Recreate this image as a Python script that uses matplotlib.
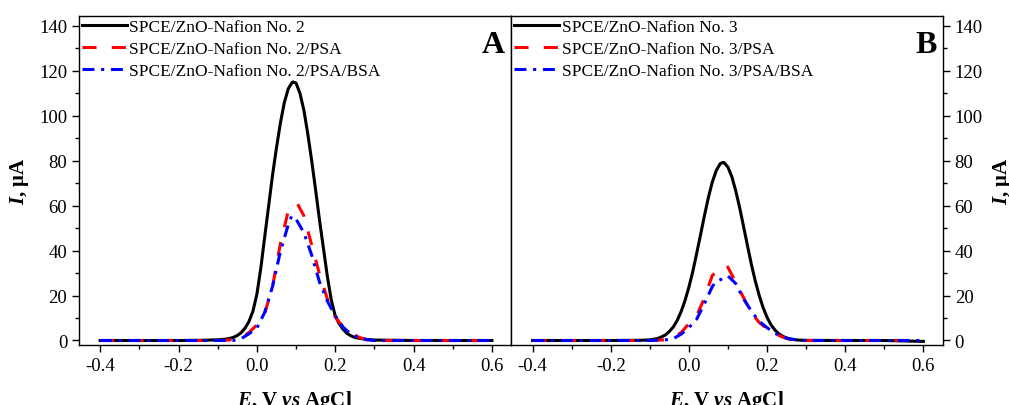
import matplotlib
matplotlib.use("Agg")
import matplotlib.pyplot as plt
from matplotlib.ticker import MultipleLocator

plt.rcParams['font.family'] = ['Liberation Serif', 'DejaVu Serif']
plt.rcParams['mathtext.fontset'] = 'custom'
plt.rcParams['mathtext.rm'] = 'Liberation Serif'
plt.rcParams['mathtext.it'] = 'Liberation Serif:italic'
plt.rcParams['mathtext.bf'] = 'Liberation Serif:bold'
plt.rcParams['mathtext.bfit'] = 'Liberation Serif:italic:bold'

# ---------------- data ----------------
# Panel A
E_A_black = [-0.40, -0.30, -0.20, -0.14, -0.10, -0.08, -0.07, -0.06, -0.05, -0.04, -0.03, -0.02, -0.01,
             0.00, 0.01, 0.02, 0.03, 0.04, 0.05, 0.06, 0.07, 0.08, 0.09, 0.093, 0.10, 0.11, 0.12, 0.13,
             0.14, 0.15, 0.16, 0.17, 0.18, 0.19, 0.20, 0.21, 0.22, 0.23, 0.24, 0.25, 0.26, 0.28, 0.30,
             0.40, 0.50, 0.60]
I_A_black = [0.0, 0.0, 0.0, 0.1, 0.3, 0.6, 0.9, 1.4, 2.2, 3.5, 5.5, 8.5, 13.0,
             20.5, 32.0, 46.0, 59.7, 73.5, 85.6, 96.6, 105.7, 111.9, 114.8, 115.0, 114.5, 110.0, 102.5, 92.0,
             80.0, 67.0, 53.5, 41.0, 28.5, 18.0, 11.0, 7.5, 5.0, 3.2, 2.1, 1.4, 1.0, 0.5, 0.2,
             0.0, 0.0, 0.0]

E_A_red = [-0.40, -0.30, -0.20, -0.10, -0.06, -0.04, -0.02, 0.00, 0.02, 0.04, 0.06, 0.08, 0.10, 0.103,
           0.12, 0.14, 0.16, 0.18, 0.20, 0.22, 0.24, 0.26, 0.28, 0.30, 0.40, 0.50, 0.60]
I_A_red = [0.0, 0.0, 0.0, 0.0, 0.3, 1.5, 3.5, 7.0, 12.0, 24.0, 43.0, 57.5, 60.5, 61.0,
           55.5, 42.5, 29.5, 18.5, 10.5, 6.0, 3.5, 1.5, 0.3, 0.0, 0.0, 0.0, 0.0]

E_A_blue = [-0.40, -0.30, -0.20, -0.10, -0.06, -0.04, -0.02, 0.00, 0.02, 0.04, 0.06, 0.08, 0.089, 0.10,
            0.12, 0.14, 0.16, 0.18, 0.20, 0.22, 0.24, 0.26, 0.28, 0.30, 0.40, 0.50, 0.60]
I_A_blue = [0.0, 0.0, 0.0, 0.0, 0.0, 0.8, 3.0, 5.5, 12.5, 24.0, 39.5, 51.4, 55.4, 54.0,
            48.0, 38.0, 26.0, 17.5, 11.0, 6.0, 2.8, 1.2, 0.4, 0.0, 0.0, 0.0, 0.0]

# Panel B
E_B_black = [-0.40, -0.30, -0.20, -0.12, -0.10, -0.09, -0.08, -0.07, -0.06, -0.05, -0.04, -0.03, -0.02,
             -0.01, 0.00, 0.01, 0.02, 0.03, 0.04, 0.05, 0.06, 0.07, 0.08, 0.087, 0.09, 0.10, 0.11, 0.12,
             0.13, 0.14, 0.15, 0.16, 0.17, 0.18, 0.19, 0.20, 0.21, 0.22, 0.23, 0.24, 0.25, 0.26, 0.27,
             0.28, 0.30, 0.40, 0.50, 0.60]
I_B_black = [0.0, 0.0, 0.0, 0.1, 0.3, 0.55, 0.9, 1.6, 2.5, 4.0, 6.0, 8.9, 12.8,
             17.7, 23.7, 30.7, 38.8, 47.2, 55.7, 63.7, 70.5, 75.6, 78.6, 79.2, 79.1, 77.1, 72.8, 66.5,
             59.0, 50.6, 42.1, 33.8, 26.4, 20.0, 14.6, 10.3, 7.0, 4.7, 3.0, 1.9, 1.1, 0.7, 0.4,
             0.2, 0.05, 0.0, 0.0, -0.4]

E_B_red = [-0.40, -0.30, -0.20, -0.10, -0.06, -0.04, -0.02, 0.00, 0.02, 0.04, 0.06, 0.08, 0.096, 0.10,
           0.12, 0.14, 0.16, 0.18, 0.20, 0.22, 0.24, 0.26, 0.28, 0.30, 0.40, 0.50, 0.60]
I_B_red = [0.0, 0.0, 0.0, 0.0, 0.3, 1.4, 3.5, 7.5, 11.0, 19.0, 29.0, 31.5, 33.4, 32.5,
           26.0, 19.0, 12.3, 8.0, 5.2, 3.0, 1.5, 0.4, 0.0, 0.0, 0.0, 0.0, 0.0]

E_B_blue = [-0.40, -0.30, -0.20, -0.10, -0.06, -0.04, -0.02, 0.00, 0.02, 0.04, 0.06, 0.07, 0.08, 0.10,
            0.12, 0.14, 0.16, 0.18, 0.20, 0.22, 0.24, 0.26, 0.28, 0.30, 0.40, 0.50, 0.60]
I_B_blue = [0.0, 0.0, 0.0, 0.0, 0.3, 0.8, 2.8, 5.7, 9.5, 16.5, 24.0, 26.3, 27.0, 28.7,
            25.3, 18.5, 13.0, 8.5, 5.7, 3.2, 1.6, 0.6, 0.2, 0.0, 0.0, 0.0, 0.0]

labels_A = ["SPCE/ZnO-Nafion No. 2", "SPCE/ZnO-Nafion No. 2/PSA", "SPCE/ZnO-Nafion No. 2/PSA/BSA"]
labels_B = ["SPCE/ZnO-Nafion No. 3", "SPCE/ZnO-Nafion No. 3/PSA", "SPCE/ZnO-Nafion No. 3/PSA/BSA"]
x_ticks = [-0.4, -0.2, 0.0, 0.2, 0.4, 0.6]
y_ticks = [0, 20, 40, 60, 80, 100, 120, 140]

# ---------------- figure ----------------
fig = plt.figure(figsize=(10.09, 4.06), dpi=100)
axA = fig.add_axes([0.0783, 0.1478, 0.4286, 0.8096])
axB = fig.add_axes([0.5069, 0.1478, 0.4276, 0.8096])

lw = 2.2
red_dash = (0, (4.6, 5.0))
blue_dd = (0, (3.9, 2.2, 1.0, 2.2))

def draw(ax, data, labels, letter, side):
    (eb, ib), (er, ir), (eu, iu) = data
    ax.plot(eb, ib, color='black', lw=lw, label=labels[0])
    ax.plot(er, ir, color='#ff0000', lw=lw, linestyle=red_dash, label=labels[1])
    ax.plot(eu, iu, color='#0000ff', lw=lw, linestyle=blue_dd, label=labels[2])
    ax.set_xlim(-0.454, 0.65)
    ax.set_ylim(-2, 144.2)
    ax.set_xticks(x_ticks)
    ax.set_xticklabels(["%.1f" % v for v in x_ticks])
    ax.xaxis.set_minor_locator(MultipleLocator(0.1))
    ax.set_yticks(y_ticks)
    ax.yaxis.set_minor_locator(MultipleLocator(10))
    ax.tick_params(axis='both', which='major', direction='out', length=5, width=1, labelsize=13.5)
    ax.tick_params(axis='both', which='minor', direction='out', length=3, width=1)
    ax.tick_params(axis='x', top=False, which='both')
    if side == 'left':
        ax.tick_params(axis='y', which='both', left=True, right=False, labelleft=True, labelright=False)
    else:
        ax.tick_params(axis='y', which='both', left=False, right=True, labelleft=False, labelright=True)
        ax.yaxis.set_label_position('right')
    ax.set_ylabel(r"$\mathbfit{I}$, μA", fontsize=15, fontweight='bold', labelpad=6)
    ax.set_xlabel(r"$\mathbfit{E}$, V $\mathbfit{vs}$ AgCl", fontsize=15, fontweight='bold', labelpad=10)
    for sp in ax.spines.values():
        sp.set_linewidth(1.0)
    ax.legend(loc='upper left', frameon=False, fontsize=12.5, handlelength=2.6,
              handletextpad=0.15, labelspacing=0.33, borderaxespad=0.05, borderpad=0.1)
    ax.text(0.985, 0.915, letter, transform=ax.transAxes, ha='right', va='center',
            fontsize=23, fontweight='bold')

draw(axA, [(E_A_black, I_A_black), (E_A_red, I_A_red), (E_A_blue, I_A_blue)], labels_A, 'A', 'left')
draw(axB, [(E_B_black, I_B_black), (E_B_red, I_B_red), (E_B_blue, I_B_blue)], labels_B, 'B', 'right')

fig.savefig("out.png", dpi=100)
